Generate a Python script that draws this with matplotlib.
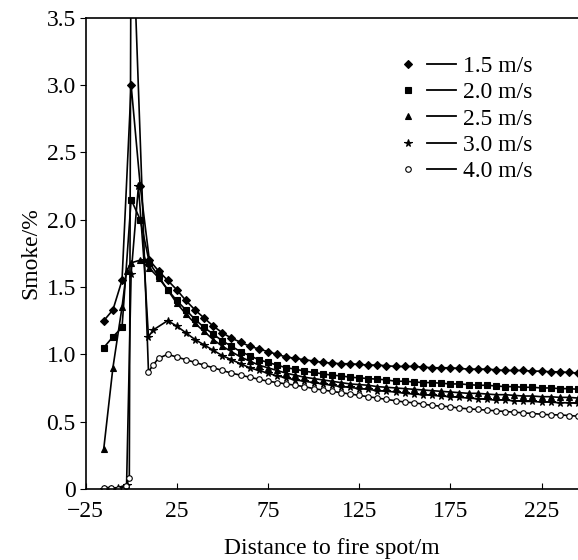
import matplotlib
matplotlib.use("Agg")
import matplotlib.pyplot as plt
from matplotlib.lines import Line2D
from matplotlib.legend_handler import HandlerTuple

plt.rcParams['font.family'] = ['Liberation Serif', 'DejaVu Serif']

# shared far-field distances (m)
x_far = [15, 20, 25, 30, 35, 40, 45, 50, 55, 60, 65, 70, 75, 80, 85, 90, 95,
         100, 105, 110, 115, 120, 125, 130, 135, 140, 145, 150, 155, 160, 165,
         170, 175, 180, 185, 190, 195, 200, 205, 210, 215, 220, 225, 230, 235,
         240, 245]

# near-field points per series (around the fire spot)
x_near_15 = [-15, -10, -5, 0, 5, 10]
y_near_15 = [1.25, 1.33, 1.55, 3.0, 2.25, 1.70]
x_near_20 = [-15, -10, -5, 0, 5, 10]
y_near_20 = [1.05, 1.13, 1.20, 2.15, 2.0, 1.68]
x_near_25 = [-15, -10, -5, -2.5, 0, 5, 10]
y_near_25 = [0.30, 0.90, 1.35, 1.62, 1.68, 1.70, 1.64]
x_near_30 = [-15, -11, -7, -2.5, 0, 4, 7, 9.5, 12]
y_near_30 = [0.0, 0.0, 0.01, 0.03, 1.6, 2.25, 1.70, 1.13, 1.18]
x_near_40 = [-15, -11, -7, -3, -1, 0, 9.5, 12]
y_near_40 = [0.01, 0.01, 0.0, 0.02, 0.08, 4.5, 0.87, 0.92]

y_far_15 = [1.62, 1.55, 1.48, 1.40, 1.33, 1.27, 1.21, 1.16, 1.12, 1.09, 1.06,
            1.04, 1.02, 1.00, 0.98, 0.97, 0.96, 0.95, 0.94, 0.935, 0.93, 0.93,
            0.925, 0.92, 0.92, 0.915, 0.91, 0.91, 0.91, 0.905, 0.90, 0.90, 0.90,
            0.895, 0.89, 0.89, 0.89, 0.885, 0.88, 0.88, 0.88, 0.875, 0.875,
            0.87, 0.87, 0.865, 0.86]
y_far_20 = [1.58, 1.48, 1.40, 1.33, 1.26, 1.20, 1.15, 1.10, 1.06, 1.02, 0.99,
            0.96, 0.94, 0.92, 0.90, 0.89, 0.875, 0.865, 0.855, 0.845, 0.84,
            0.83, 0.825, 0.82, 0.815, 0.81, 0.80, 0.80, 0.795, 0.79, 0.79,
            0.785, 0.78, 0.78, 0.775, 0.77, 0.77, 0.765, 0.76, 0.76, 0.755,
            0.755, 0.75, 0.75, 0.745, 0.745, 0.74]
y_far_25 = [1.57, 1.48, 1.38, 1.30, 1.23, 1.17, 1.11, 1.06, 1.02, 0.98, 0.95,
            0.92, 0.90, 0.88, 0.86, 0.845, 0.83, 0.82, 0.81, 0.80, 0.79, 0.78,
            0.775, 0.77, 0.76, 0.755, 0.75, 0.745, 0.74, 0.735, 0.73, 0.725,
            0.72, 0.715, 0.71, 0.71, 0.705, 0.70, 0.70, 0.695, 0.69, 0.69,
            0.685, 0.685, 0.68, 0.68, 0.675]
y_far_30 = [1.23, 1.25, 1.21, 1.16, 1.11, 1.07, 1.03, 0.99, 0.96, 0.93, 0.90,
            0.88, 0.86, 0.84, 0.825, 0.81, 0.80, 0.79, 0.78, 0.77, 0.76, 0.755,
            0.745, 0.74, 0.73, 0.725, 0.72, 0.71, 0.705, 0.70, 0.695, 0.69,
            0.685, 0.68, 0.675, 0.67, 0.665, 0.66, 0.66, 0.655, 0.65, 0.65,
            0.645, 0.645, 0.64, 0.64, 0.635]
y_far_40 = [0.97, 1.00, 0.98, 0.96, 0.94, 0.92, 0.90, 0.88, 0.86, 0.845, 0.83,
            0.815, 0.80, 0.79, 0.78, 0.77, 0.76, 0.745, 0.735, 0.725, 0.715,
            0.705, 0.695, 0.685, 0.675, 0.665, 0.655, 0.645, 0.64, 0.63, 0.62,
            0.615, 0.61, 0.60, 0.595, 0.59, 0.585, 0.58, 0.575, 0.57, 0.565,
            0.56, 0.555, 0.55, 0.55, 0.545, 0.54]

labels = ['1.5 m/s', '2.0 m/s', '2.5 m/s', '3.0 m/s', '4.0 m/s']
markers = ['D', 's', '^', '*', 'o']
msizes = [4, 4, 4.5, 5.5, 4]

series = [
    (x_near_15 + x_far, y_near_15 + y_far_15),
    (x_near_20 + x_far, y_near_20 + y_far_20),
    (x_near_25 + x_far, y_near_25 + y_far_25),
    (x_near_30 + x_far[1:], y_near_30 + y_far_30[1:]),
    (x_near_40 + x_far, y_near_40 + y_far_40),
]

fig = plt.figure(figsize=(5.78, 5.6), dpi=100)
ax = fig.add_axes([0.148, 0.127, 0.852, 0.841])

handles = []
for (xs, ys), lab, mk, ms in zip(series, labels, markers, msizes):
    face = 'white' if mk == 'o' else 'black'
    ax.plot(xs, ys, color='black', lw=1.2, marker=mk, ms=ms,
            mfc=face, mec='black', mew=0.8)
    h_mark = Line2D([], [], ls='none', marker=mk, ms=ms, mfc=face,
                    mec='black', mew=0.8)
    h_line = Line2D([], [], color='black', lw=1.3)
    handles.append((h_mark, h_line))

ax.set_xlim(-25, 245)
ax.set_ylim(0, 3.5)
ax.set_xticks([-25, 25, 75, 125, 175, 225])
ax.set_yticks([0, 0.5, 1.0, 1.5, 2.0, 2.5, 3.0, 3.5])
ax.set_yticklabels(['0', '0.5', '1.0', '1.5', '2.0', '2.5', '3.0', '3.5'])
ax.tick_params(axis='x', direction='in', length=4, labelsize=17, pad=9)
ax.tick_params(axis='y', direction='out', length=4, labelsize=17, pad=3)
ax.spines['right'].set_visible(False)
for s in ['left', 'bottom', 'top']:
    ax.spines[s].set_linewidth(1.2)

ax.set_xlabel('Distance to fire spot/m', fontsize=17, labelpad=11)
ax.set_ylabel('Smoke/%', fontsize=17, labelpad=4)

ax.legend(handles, labels, handler_map={tuple: HandlerTuple(ndivide=None, pad=0.2)},
          loc='upper right', bbox_to_anchor=(0.95, 0.965), frameon=False,
          fontsize=17, handlelength=2.6, handletextpad=0.3, labelspacing=0.2)

fig.savefig('out.png', dpi=100)
